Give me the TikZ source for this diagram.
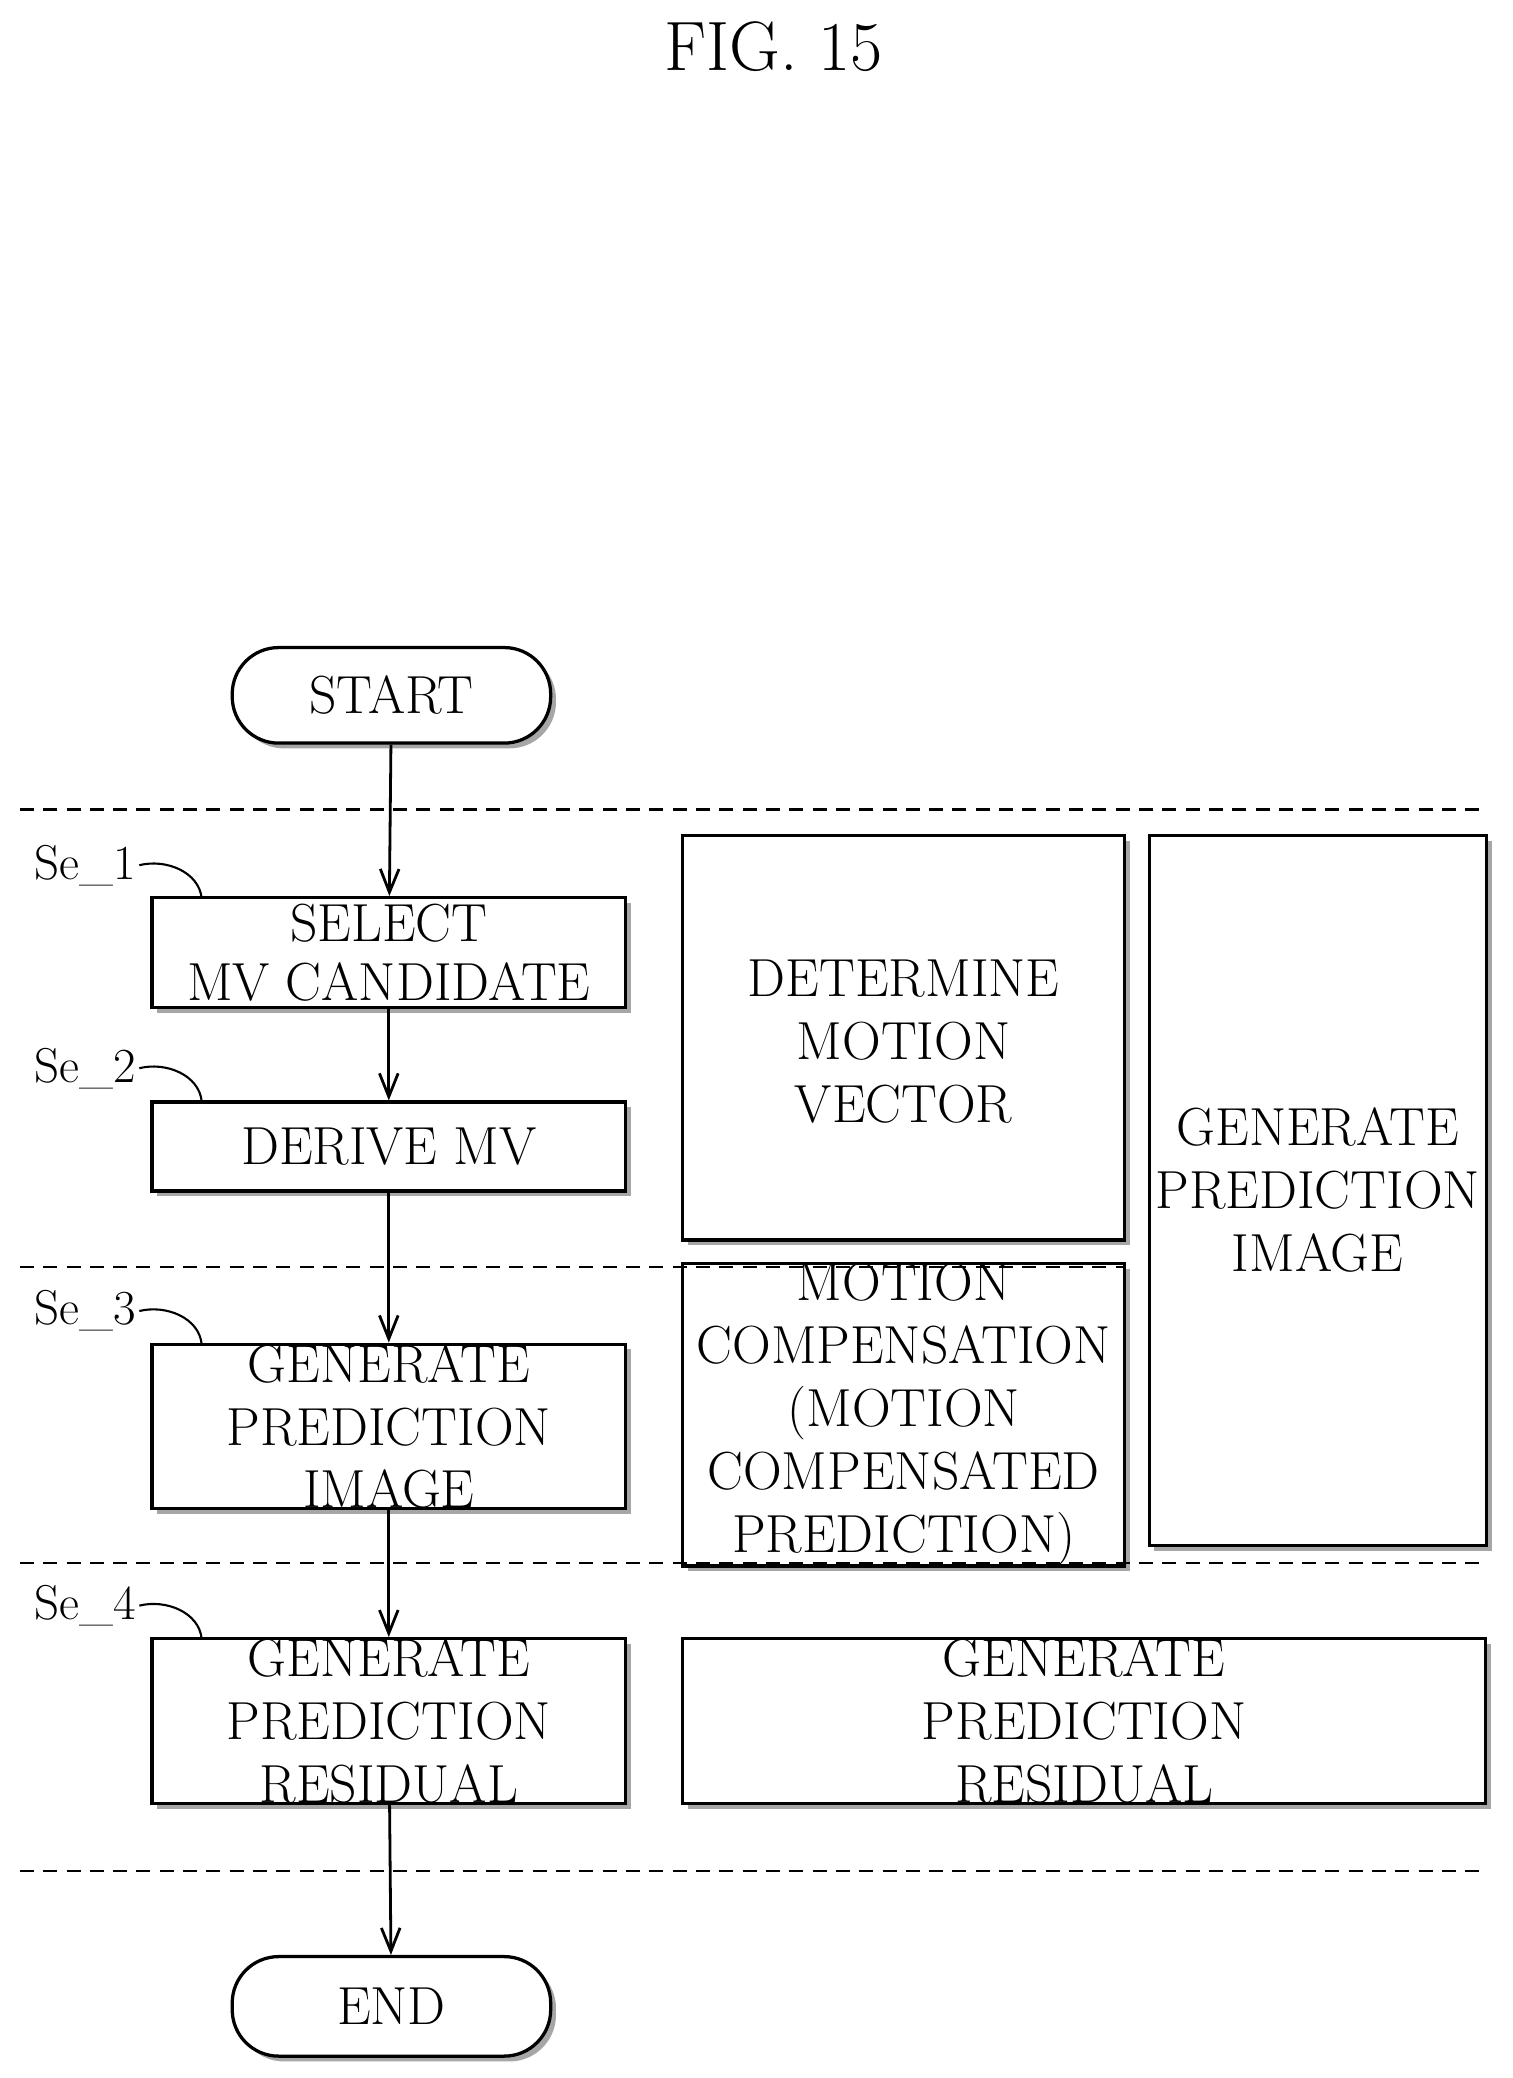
\documentclass[tikz,border=0pt]{standalone}
\usetikzlibrary{shadows,arrows.meta}
\begin{document}
\begin{tikzpicture}[x=0.02cm,y=-0.02cm,
  font=\fontsize{23}{27}\selectfont,
  sh/.style={draw,line width=1.4pt,fill=white,drop shadow={shadow xshift=0.08cm,shadow yshift=-0.08cm,fill=gray!70,opacity=1},align=center,inner sep=0pt},
  term/.style={sh,rounded corners=0.7cm},
  dl/.style={dashed,line width=1pt,dash pattern=on 6pt off 4pt},
  ar/.style={-{Straight Barb[length=10pt,width=8pt]},line width=1.2pt},
  lbl/.style={font=\fontsize{21}{23}\selectfont}]
\useasboundingbox (0,0) rectangle (1140,1566);
\node at (583,35) {\fontsize{30}{32}\selectfont FIG. 15};
\node[term,minimum width=240*0.02cm,minimum height=72*0.02cm] (st) at (295,524) {START};
\node[term,minimum width=240*0.02cm,minimum height=75*0.02cm] (en) at (295,1512) {END};
\node[sh,minimum width=357*0.02cm,minimum height=83*0.02cm] (s1) at (293,718) {SELECT\\[-2pt]MV CANDIDATE};
\node[sh,minimum width=357*0.02cm,minimum height=67*0.02cm] (s2) at (293,864) {DERIVE MV};
\node[sh,minimum width=357*0.02cm,minimum height=120*0.02cm] (s3) at (293,1075) {GENERATE\\PREDICTION\\IMAGE};
\node[sh,minimum width=357*0.02cm,minimum height=121*0.02cm] (s4) at (293,1297) {GENERATE\\PREDICTION\\RESIDUAL};
\node[sh,minimum width=333*0.02cm,minimum height=305*0.02cm] (dm) at (681,782) {};
\node at (681,785) [align=center] (dmt) {DETERMINE\\MOTION\\VECTOR};
\node[sh,minimum width=254*0.02cm,minimum height=535*0.02cm] (gp) at (993,897) {GENERATE\\PREDICTION\\IMAGE};
\node[sh,minimum width=333*0.02cm,minimum height=197*0.02cm] (mc) at (681,1066) {MOTION\\COMPENSATION\\(MOTION\\COMPENSATED\\PREDICTION)};
\node[sh,minimum width=605*0.02cm,minimum height=121*0.02cm] (pr) at (817,1297) {GENERATE\\PREDICTION\\RESIDUAL};
\draw[dl] (15,610) -- (1118,610);
\draw[dl] (15,955) -- (848,955);
\draw[dl] (15,1178) -- (1118,1178);
\draw[dl] (15,1410) -- (1118,1410);
\draw[ar] (st) -- (s1);
\draw[ar] (s1) -- (s2);
\draw[ar] (s2) -- (s3);
\draw[ar] (s3) -- (s4);
\draw[ar] (s4) -- (en);
\foreach \n/\y/\t in {s1/652/Se\_1, s2/805/Se\_2, s3/988/Se\_3, s4/1210/Se\_4}{
  \node[lbl] (l\n) at (64,\y) {\t};
  \coordinate (c\n) at (152,\y+25);
  \draw[line width=0.9pt] (105,\y) .. controls (125,\y-5) and (150,\y+5) .. (c\n);
}
\end{tikzpicture}
\end{document}
